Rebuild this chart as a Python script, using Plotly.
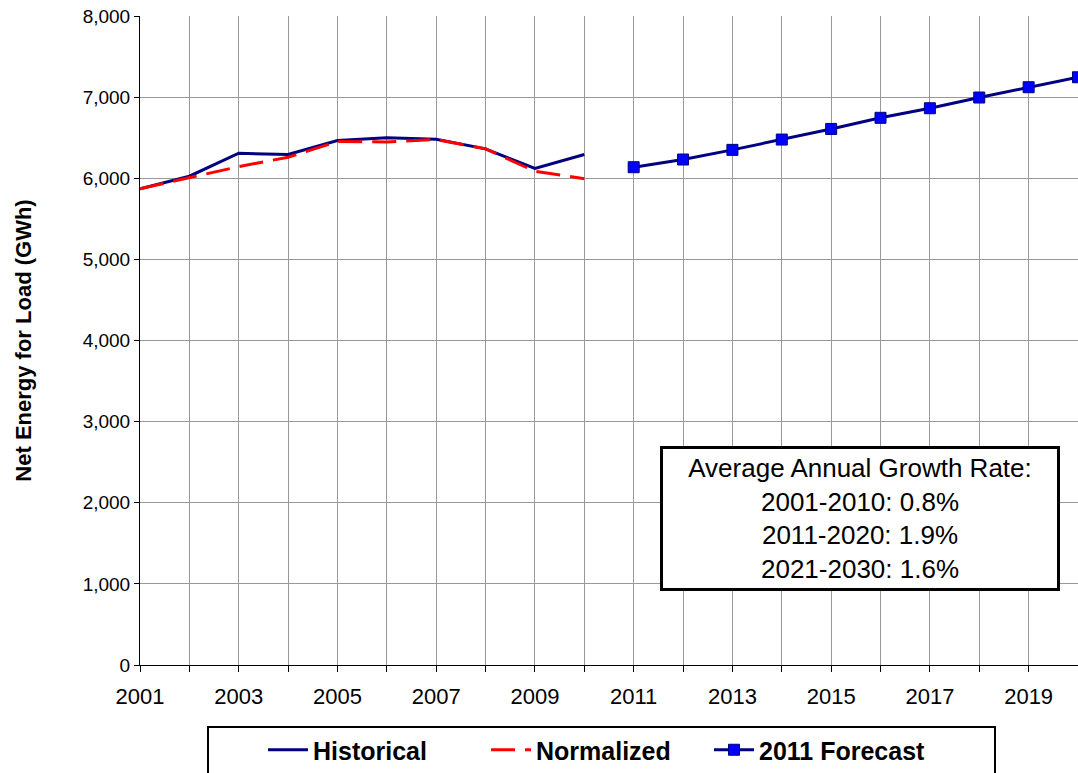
import plotly.graph_objects as go

hist_years = list(range(2001, 2011))
historical = [5870, 6025, 6308, 6292, 6465, 6498, 6481, 6362, 6120, 6292]
normalized = [5870, 6010, 6144, 6259, 6452, 6448, 6478, 6362, 6086, 5995]
fc_years = list(range(2011, 2021))
forecast = [6136, 6231, 6350, 6477, 6608, 6745, 6863, 6995, 7122, 7245]

x_ticks = list(range(2001, 2021))
x_ticktext = [str(y) if (y - 2001) % 2 == 0 and y < 2020 else "" for y in x_ticks]
y_ticks = [0, 1000, 2000, 3000, 4000, 5000, 6000, 7000, 8000]

box_text = "Average Annual Growth Rate:<br>2001-2010: 0.8%<br>2011-2020: 1.9%<br>2021-2030: 1.6%"

FONT = "Arial, Liberation Sans, sans-serif"

# plot area spans px 140..1078 (x), 16..665 (y)
def px(xp):
    return (xp - 140) / 938

def py(yp):
    return (665 - yp) / 649

fig = go.Figure()
fig.add_trace(go.Scatter(x=hist_years, y=historical, mode="lines", name="Historical",
                         line=dict(color="#000080", width=3)))
fig.add_trace(go.Scatter(x=hist_years, y=normalized, mode="lines", name="Normalized",
                         line=dict(color="#FF0000", width=3, dash="24px,10px")))
fig.add_trace(go.Scatter(x=fc_years, y=forecast, mode="lines+markers", name="2011 Forecast",
                         line=dict(color="#000080", width=3),
                         marker=dict(symbol="square", size=11, color="#0000FF",
                                     line=dict(color="#000080", width=1)),
                         cliponaxis=True))

fig.update_layout(
    width=1078, height=773,
    margin=dict(l=140, r=0, t=16, b=108, autoexpand=False),
    paper_bgcolor="white", plot_bgcolor="white",
    font=dict(family=FONT, size=20, color="black"),
    showlegend=True,
    legend=dict(orientation="h", x=px(263), y=py(773), xanchor="left", yanchor="bottom",
                bgcolor="rgba(0,0,0,0)", borderwidth=0,
                font=dict(size=25, family=FONT, color="black", weight="bold"),
                entrywidth=168, itemwidth=40),
    xaxis=dict(range=[2001, 2020], tickvals=x_ticks, ticktext=x_ticktext,
               showgrid=True, gridcolor="#999999", gridwidth=1,
               showline=True, linecolor="black", linewidth=1,
               ticks="outside", ticklen=6, tickcolor="black", automargin=False,
               tickfont=dict(size=22), zeroline=False, ticklabelstandoff=6),
    yaxis=dict(range=[0, 8000], tickvals=y_ticks, tickformat=",d",
               showgrid=True, gridcolor="#999999", gridwidth=1,
               showline=True, linecolor="black", linewidth=1,
               ticks="outside", ticklen=5, tickcolor="black", automargin=False,
               tickfont=dict(size=19), zeroline=False, ticklabeloverflow="allow",
               title=dict(text="<b>Net Energy for Load (GWh)</b>", font=dict(size=22), standoff=44)),
    shapes=[
        dict(type="rect", xref="paper", yref="paper",
             x0=px(208), x1=px(995), y0=py(727), y1=py(800),
             line=dict(color="black", width=2), fillcolor="rgba(0,0,0,0)", layer="above"),
    ],
    annotations=[
        dict(xref="paper", yref="paper", x=px(660), y=py(446),
             xanchor="left", yanchor="top", text=box_text, showarrow=False,
             align="center", font=dict(size=26, color="black", family=FONT),
             bordercolor="black", borderwidth=3, bgcolor="white",
             width=390, height=135, borderpad=2),
    ],
)

fig.write_html("out.html",
               config={"displayModeBar": False},
               post_script="document.body.style.margin='0';document.body.style.overflow='hidden';")
